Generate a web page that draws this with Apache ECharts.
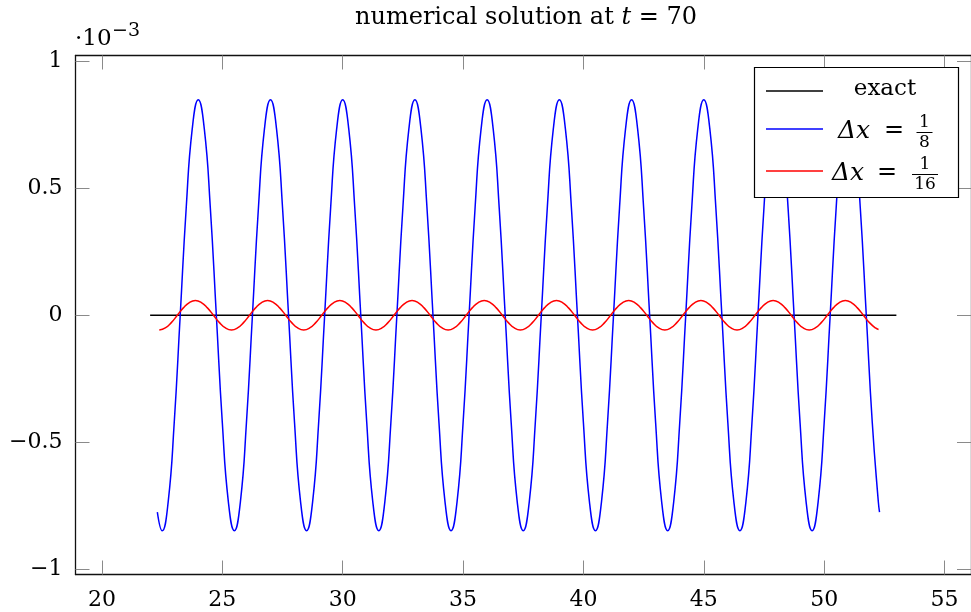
<!DOCTYPE html>
<html>
<head>
<meta charset="utf-8">
<script src="https://cdn.jsdelivr.net/npm/echarts@6/dist/echarts.min.js"></script>
<style>html,body{margin:0;padding:0;background:#fff}#c{width:971px;height:612px}</style>
</head>
<body>
<div id="c"></div>
<script>
const xTicks = [20, 25, 30, 35, 40, 45, 50, 55];
const yTicks = [-1, -0.5, 0, 0.5, 1];
const yTickLabels = ['\u22121', '\u22120.5', '0', '0.5', '1'];

const exactX = [22, 53];
const exactY = [0, 0];

const blueX = [
22.3,
22.5,22.75,23,23.25,23.5,23.75,24,24.25,24.5,24.75,25,25.25,
25.5,25.75,26,26.25,26.5,26.75,27,27.25,27.5,27.75,28,28.25,
28.5,28.75,29,29.25,29.5,29.75,30,30.25,30.5,30.75,31,31.25,
31.5,31.75,32,32.25,32.5,32.75,33,33.25,33.5,33.75,34,34.25,
34.5,34.75,35,35.25,35.5,35.75,36,36.25,36.5,36.75,37,37.25,
37.5,37.75,38,38.25,38.5,38.75,39,39.25,39.5,39.75,40,40.25,
40.5,40.75,41,41.25,41.5,41.75,42,42.25,42.5,42.75,43,43.25,
43.5,43.75,44,44.25,44.5,44.75,45,45.25,45.5,45.75,46,46.25,
46.5,46.75,47,47.25,47.5,47.75,48,48.25,48.5,48.75,49,49.25,
49.5,49.75,50,50.25,50.5,50.75,51,51.25,51.5,51.75,52,52.25,
52.3];
const blueY = [
-0.775,
-0.848,-0.734,-0.424,0,0.424,0.734,0.848,0.734,0.424,0,-0.424,-0.734,
-0.848,-0.734,-0.424,0,0.424,0.734,0.848,0.734,0.424,0,-0.424,-0.734,
-0.848,-0.734,-0.424,0,0.424,0.734,0.848,0.734,0.424,0,-0.424,-0.734,
-0.848,-0.734,-0.424,0,0.424,0.734,0.848,0.734,0.424,0,-0.424,-0.734,
-0.848,-0.734,-0.424,0,0.424,0.734,0.848,0.734,0.424,0,-0.424,-0.734,
-0.848,-0.734,-0.424,0,0.424,0.734,0.848,0.734,0.424,0,-0.424,-0.734,
-0.848,-0.734,-0.424,0,0.424,0.734,0.848,0.734,0.424,0,-0.424,-0.734,
-0.848,-0.734,-0.424,0,0.424,0.734,0.848,0.734,0.424,0,-0.424,-0.734,
-0.848,-0.734,-0.424,0,0.424,0.734,0.848,0.734,0.424,0,-0.424,-0.734,
-0.848,-0.734,-0.424,0,0.424,0.734,0.848,0.734,0.424,0,-0.424,-0.734,
-0.775];

const redX = [
22.38,22.63,22.88,23.13,23.38,23.63,23.88,24.13,24.38,24.63,24.88,25.13,
25.38,25.63,25.88,26.13,26.38,26.63,26.88,27.13,27.38,27.63,27.88,28.13,
28.38,28.63,28.88,29.13,29.38,29.63,29.88,30.13,30.38,30.63,30.88,31.13,
31.38,31.63,31.88,32.13,32.38,32.63,32.88,33.13,33.38,33.63,33.88,34.13,
34.38,34.63,34.88,35.13,35.38,35.63,35.88,36.13,36.38,36.63,36.88,37.13,
37.38,37.63,37.88,38.13,38.38,38.63,38.88,39.13,39.38,39.63,39.88,40.13,
40.38,40.63,40.88,41.13,41.38,41.63,41.88,42.13,42.38,42.63,42.88,43.13,
43.38,43.63,43.88,44.13,44.38,44.63,44.88,45.13,45.38,45.63,45.88,46.13,
46.38,46.63,46.88,47.13,47.38,47.63,47.88,48.13,48.38,48.63,48.88,49.13,
49.38,49.63,49.88,50.13,50.38,50.63,50.88,51.13,51.38,51.63,51.88,52.13,
52.26];
const redY = [
-0.058,-0.050,-0.029,0,0.029,0.050,0.058,0.050,0.029,0,-0.029,-0.050,
-0.058,-0.050,-0.029,0,0.029,0.050,0.058,0.050,0.029,0,-0.029,-0.050,
-0.058,-0.050,-0.029,0,0.029,0.050,0.058,0.050,0.029,0,-0.029,-0.050,
-0.058,-0.050,-0.029,0,0.029,0.050,0.058,0.050,0.029,0,-0.029,-0.050,
-0.058,-0.050,-0.029,0,0.029,0.050,0.058,0.050,0.029,0,-0.029,-0.050,
-0.058,-0.050,-0.029,0,0.029,0.050,0.058,0.050,0.029,0,-0.029,-0.050,
-0.058,-0.050,-0.029,0,0.029,0.050,0.058,0.050,0.029,0,-0.029,-0.050,
-0.058,-0.050,-0.029,0,0.029,0.050,0.058,0.050,0.029,0,-0.029,-0.050,
-0.058,-0.050,-0.029,0,0.029,0.050,0.058,0.050,0.029,0,-0.029,-0.050,
-0.058,-0.050,-0.029,0,0.029,0.050,0.058,0.050,0.029,0,-0.029,-0.050,
-0.056];

const FONT = 'DejaVu Serif';
const pairs = (xs, ys) => xs.map((x, i) => [x, ys[i]]);

const axisLineStyle = { color: '#111', width: 1.3 };
const tickStyle = { color: '#8a8a8a', width: 1 };

function xAxisDef(pos, showLabels) {
  return {
    type: 'value', position: pos, min: 18.9, max: 56.1,
    axisLine: { show: true, onZero: false, lineStyle: axisLineStyle },
    axisTick: { show: true, inside: true, length: 14, customValues: xTicks, lineStyle: tickStyle },
    axisLabel: { show: showLabels, customValues: xTicks, margin: 15, color: '#000', fontFamily: FONT, fontSize: 22 },
    splitLine: { show: false }
  };
}
function yAxisDef(pos, showLabels) {
  return {
    type: 'value', position: pos, min: -1.02, max: 1.022,
    axisLine: { show: true, onZero: false, lineStyle: axisLineStyle },
    axisTick: { show: true, inside: true, length: 14, customValues: yTicks, lineStyle: tickStyle },
    axisLabel: { show: showLabels, customValues: yTicks, margin: 13, color: '#000', fontFamily: FONT, fontSize: 22,
      formatter: v => { const i = yTicks.indexOf(v); return i >= 0 ? yTickLabels[i] : ''; } },
    splitLine: { show: false }
  };
}

const chart = echarts.init(document.getElementById('c'));
const txt = (text, x, y, size, align, italic) => ({
  type: 'text', z: 110, x: x, y: y,
  style: { text: text, fill: '#000', font: (italic ? 'italic ' : '') + size + 'px "' + FONT + '"', align: align, verticalAlign: 'middle' }
});

chart.setOption({
  animation: false,
  backgroundColor: '#fff',
  title: {
    text: 'numerical solution at {i|t} = 70',
    left: 526, top: 6, textAlign: 'center', padding: 0,
    textStyle: { fontFamily: FONT, fontSize: 24, fontWeight: 'normal', color: '#000',
      rich: { i: { fontFamily: FONT, fontSize: 24, fontStyle: 'italic', color: '#000' } } }
  },
  grid: { left: 75.5, top: 55.5, width: 902.5, height: 519, containLabel: false },
  xAxis: [xAxisDef('bottom', true), xAxisDef('top', false)],
  yAxis: [yAxisDef('left', true), yAxisDef('right', false)],
  series: [
    { name: 'exact', type: 'line', data: pairs(exactX, exactY), showSymbol: false,
      lineStyle: { color: '#000', width: 1.3 }, itemStyle: { color: '#000' } },
    { name: '\u0394x = 1/8', type: 'line', data: pairs(blueX, blueY), showSymbol: false, smooth: true,
      lineStyle: { color: '#0000ff', width: 1.5 }, itemStyle: { color: '#0000ff' } },
    { name: '\u0394x = 1/16', type: 'line', data: pairs(redX, redY), showSymbol: false, smooth: true,
      lineStyle: { color: '#ff0000', width: 1.5 }, itemStyle: { color: '#ff0000' } }
  ],
  graphic: [
    txt('\u00b710', 75, 39, 23, 'left'),
    txt('\u22123', 112, 31, 19, 'left'),
    { type: 'rect', z: 100, shape: { x: 754.5, y: 67.5, width: 204, height: 130 },
      style: { fill: '#fff', stroke: '#000', lineWidth: 1.2 } },
    { type: 'line', z: 110, shape: { x1: 766, y1: 91, x2: 823, y2: 91 }, style: { stroke: '#000', lineWidth: 1.3 } },
    { type: 'line', z: 110, shape: { x1: 766, y1: 129, x2: 823, y2: 129 }, style: { stroke: '#0000ff', lineWidth: 1.3 } },
    { type: 'line', z: 110, shape: { x1: 766, y1: 171, x2: 823, y2: 171 }, style: { stroke: '#ff0000', lineWidth: 1.3 } },
    txt('exact', 885, 89, 23, 'center'),
    txt('\u0394x', 838, 131, 25, 'left', true),
    txt('=', 894, 131, 24, 'center'),
    txt('1', 924.5, 122.5, 17, 'center'),
    { type: 'line', z: 110, shape: { x1: 916.5, y1: 132.5, x2: 932.5, y2: 132.5 }, style: { stroke: '#000', lineWidth: 1 } },
    txt('8', 924.5, 142.5, 17, 'center'),
    txt('\u0394x', 832, 173, 25, 'left', true),
    txt('=', 887, 173, 24, 'center'),
    txt('1', 925, 164.5, 17, 'center'),
    { type: 'line', z: 110, shape: { x1: 912, y1: 174.5, x2: 938, y2: 174.5 }, style: { stroke: '#000', lineWidth: 1 } },
    txt('16', 925, 184.5, 17, 'center')
  ]
});
</script>
</body>
</html>
